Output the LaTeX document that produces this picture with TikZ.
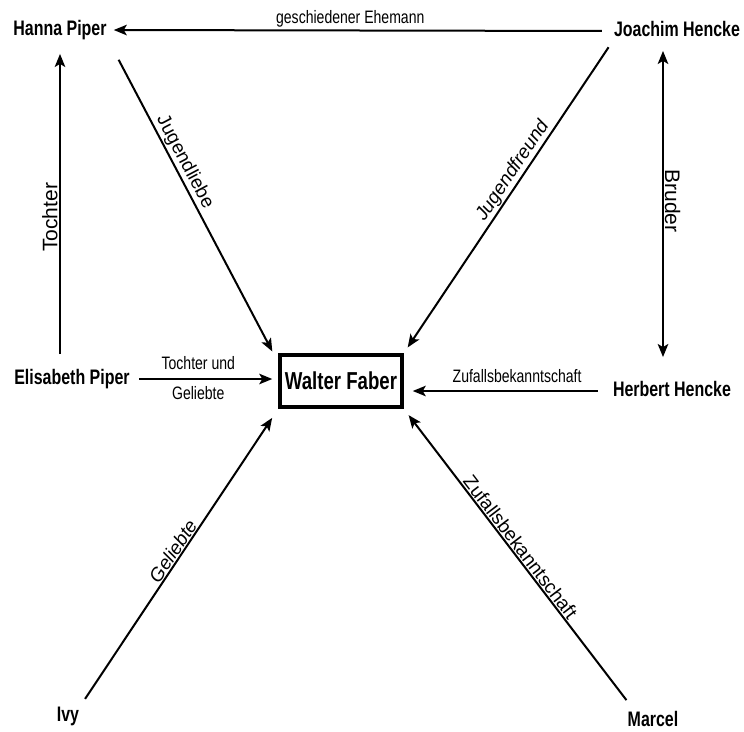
\documentclass[tikz,border=0pt]{standalone}
\usepackage{fontspec}
\setmainfont{Liberation Sans}[FakeStretch=0.78]
\newfontfamily\namefont{Liberation Sans}[FakeStretch=0.76]
\newfontfamily\slopefont{Liberation Sans}
\usepackage{tikz}
\usetikzlibrary{arrows.meta}
\tikzstyle{person}=[font=\namefont\bfseries\fontsize{21}{24}\selectfont,inner sep=3pt,text height=15pt,text depth=4.5pt]
\tikzstyle{hub}=[draw,line width=3.5pt,font=\namefont\bfseries\fontsize{24.5}{27}\selectfont,minimum width=122pt,minimum height=52pt,inner sep=2pt]
\tikzstyle{rel}=[line width=2pt]
\tikzstyle{lbl}=[font=\fontsize{18}{20}\selectfont,inner sep=2pt]
\tikzstyle{slbl}=[font=\slopefont\fontsize{19}{21}\selectfont,inner sep=1pt,sloped,above]
\tikzstyle{vlbl}=[font=\slopefont\fontsize{21}{23}\selectfont,inner sep=1.5pt,anchor=south]

\begin{document}
\begin{tikzpicture}[x=1pt,y=-1pt,>={Stealth[length=13pt,width=10.5pt,inset=3pt]}]
      \useasboundingbox (0,0) rectangle (744,731);

      \node[hub] (wf) at (341,381) {Walter Faber};

      \node[person] (hanna) at (60,30) {Hanna Piper};
      \node[person] (joachim) at (677,31) {Joachim Hencke};
      \node[person] (elisabeth) at (72,379) {Elisabeth Piper};
      \node[person] (herbert) at (672,391) {Herbert Hencke};
      \node[person] (ivy) at (68,716) {Ivy};
      \node[person] (marcel) at (653,721) {Marcel};

      \draw[rel,->,shorten <=9pt,shorten >=4pt] (joachim.west) to
        node[lbl,above,pos=.52] {geschiedener Ehemann} (hanna.east);
      \draw[rel,->,shorten <=12pt,shorten >=11pt] (elisabeth.north -| hanna.south) to
        node[vlbl,pos=.46,rotate=90] {Tochter} (hanna.south);
      \draw[rel,<->,shorten <=7pt,shorten >=21pt] ([xshift=-14pt]joachim.south) to
        node[vlbl,pos=.47,rotate=-90,inner sep=1pt] {Bruder} ([xshift=-9pt]herbert.north);

      \draw[rel,->,shorten <=19pt,shorten >=2pt] (hanna.south east) to
        node[slbl,pos=.40] {Jugendliebe} ([xshift=-5pt]wf.north west);
      \draw[rel,->,shorten <=4pt,shorten >=7pt] (joachim.south west) to
        node[slbl,pos=.43] {\itshape Jugendfreund} (wf.north east);
      \draw[rel,->,shorten <=6.5pt,shorten >=6pt] (elisabeth.east) to
        node[lbl,above=6pt,pos=.45] {Tochter und}
        node[lbl,below=4pt,pos=.45] {Geliebte} (elisabeth.east -| wf.west);
      \draw[rel,->,shorten <=12pt,shorten >=9pt] (herbert.west) to
        node[lbl,above=5pt,pos=.45] {Zufallsbekanntschaft} (herbert.west -| wf.east);
      \draw[rel,->,shorten <=5pt,shorten >=11pt] (ivy.north east) to
        node[slbl,pos=.5] {\itshape Geliebte} (wf.south west);
      \draw[rel,->,shorten <=10pt,shorten >=8pt] ([xshift=8pt]marcel.north west) to
        node[slbl,pos=.52] {Zufallsbekanntschaft} (wf.south east);
\end{tikzpicture}
\end{document}
